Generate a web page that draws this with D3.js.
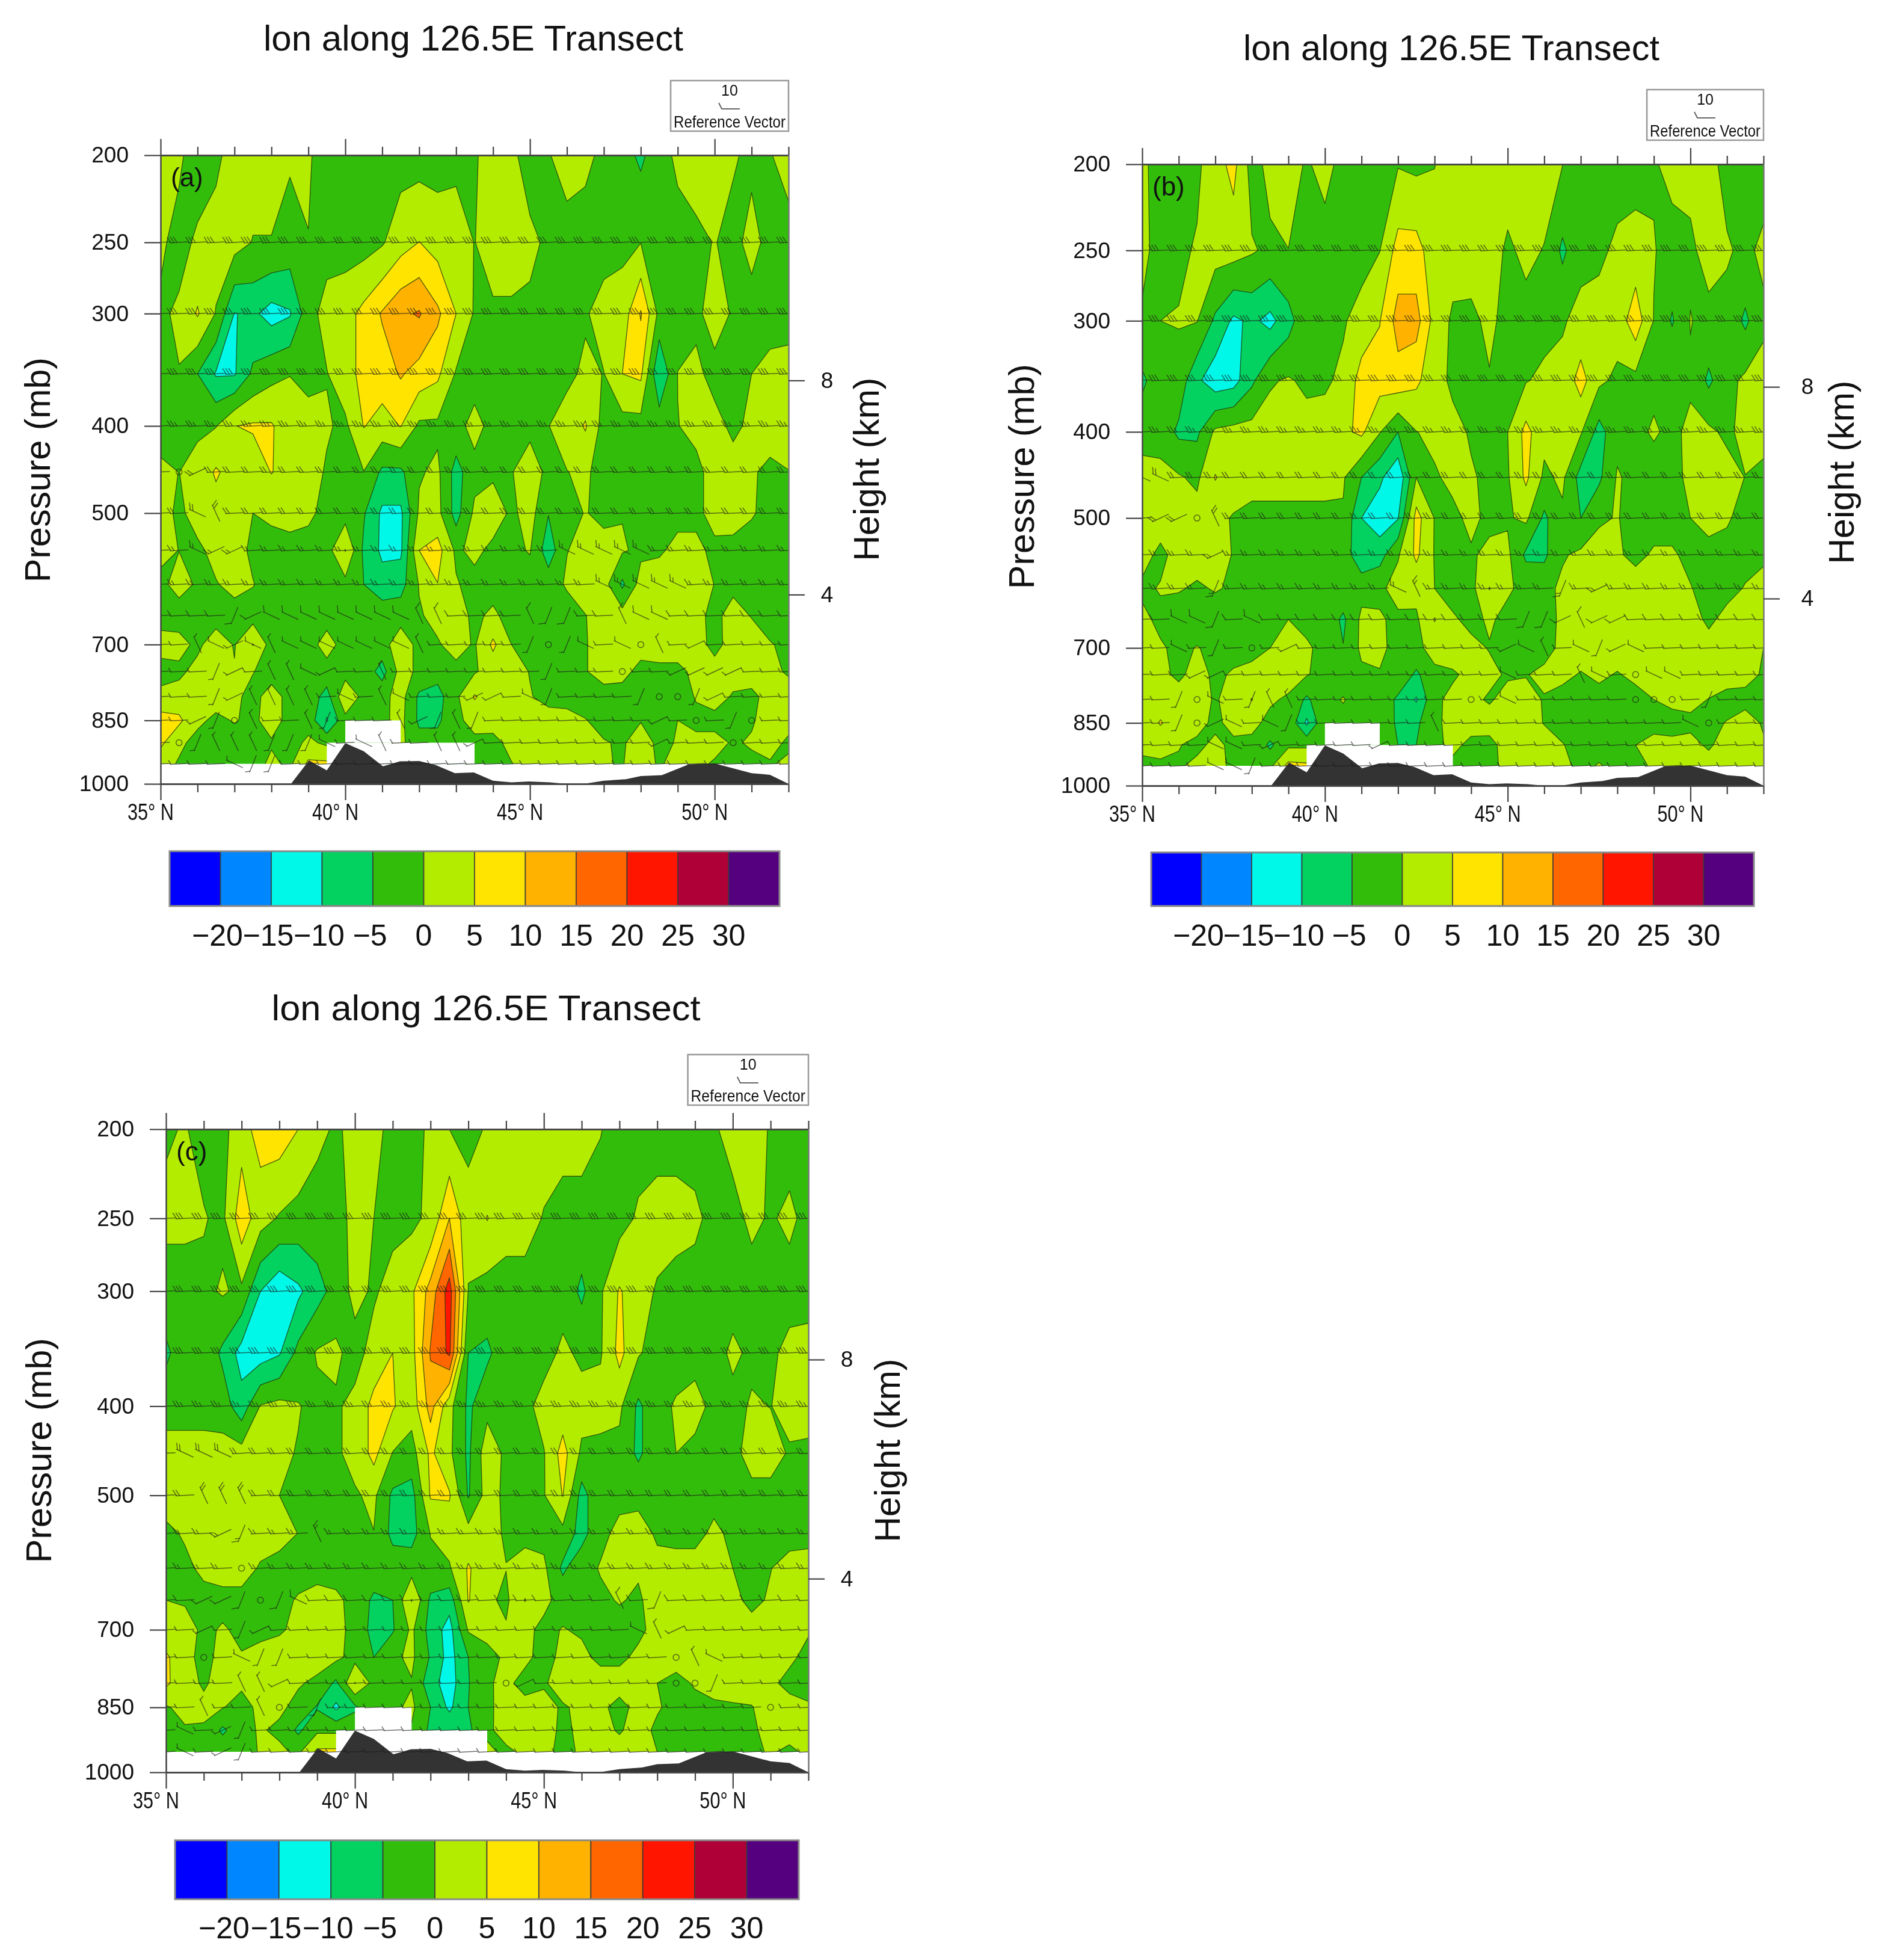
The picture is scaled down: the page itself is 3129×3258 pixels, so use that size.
<!DOCTYPE html>
<html><head><meta charset="utf-8">
<script src="https://cdn.jsdelivr.net/npm/d3@7"></script>
<style>html,body{margin:0;padding:0;background:#fff}svg{display:block;filter:blur(.6px)}text{font-family:"Liberation Sans",Arial,sans-serif;fill:#111}</style>
</head><body><svg id="c" width="3129" height="3258"></svg>
<script>
const lats = d3.range(35, 52.01, 0.5);
const levels = d3.range(200, 951, 50);
const contourLevels = [-20,-15,-10,-5,0,5,10,15,20,25,30];
const bandColors = ["#0000ff","#0087ff","#00f8e8","#03d160","#33bd0b","#b4ec00","#ffe400","#ffb300","#ff6600","#ff1500","#b00038","#55007f"];
const yTickP = [200,250,300,400,500,700,850,1000];
const kmTicks = [{km:8,p:356},{km:4,p:616}];
const terrainLat = [38.53,39.02,39.5,40,40.5,41.02,41.48,42,42.45,42.97,43.48,44,44.5,44.97,45.54,46,46.46,47,47.6,48,48.57,49.3,50,51,51.5,52];
const terrainP = [1000,941.6,966,901,920,956,944,943,953,973,971,992,996,994,996,1000,1000,992,988,980,978,951,949,973,977,1000];
const missing = [[39.5,43.5,900,950],[40,41.5,850,900]];
const feathers = [0,3,3,3,2.5,2,2,1.5,1.5,1,.5,.5,.5,.5,.5,.5];
const tilt = {"-":-3,d:25,u:-25,s:65,t:-68};

const gridA = [
[2,1,-3,-1,2, 2,2,.6,.5,-2, -2,-2,-2,-2,-2, -2,-1,-.5,2,1, -2,-.3,2,1,-1, -3,-6,-2,1,2, 2,.5,-1,-.3,2],
[1,-2,1,2,2, -.2,-.2,-2,-.1,-2, -2,-2,-.5,3,5.1, 3,2,-.1,2,2, 1,-.8,-2,-2,-2, -1,-.1,-2,-2,-1, .2,-1.4,1.5,-1.5,-2],
[-1,1,5.5,-.3,-10.2, -9,-12,-10.5,-2,2, 3,6.5,10.5,14,15.5, 11,5,-.5,-.7,-.7, -.9,-2,-2,-.5,2, 2,10.5,-1.5,-2,-1, 2,-.5,-2,-2,-2],
[-2,-.2,-5,-10.5,-10.5, -4,-1.5,-.1,-1.5,-.2, 3,6.5,7.5,10.5,8, 6,-.5,-2,-2,-2, -2,-2,-1,.8,-.1, 5,6,-10,.1,1, -1.5,-2,0,1.5,2],
[-2,-2,-1,-.2,4.9, 5.6,5.5,2,2,.5, -1,5.2,3,5.2,-1, -1,-1.5,1.5,-1.5,-1.5, -1,-.1,2,5.5,-2, -2,-2,-2,-.1,1, 1.5,-1,1,2,2],
[1,-.05,2,5.6,3, 2,5.2,3,2,-.5, -1,-.1,-6,-6,-.5, 1,-7,-1.5,-1,-.2, 2,-1,-.1,.8,-2, -2,-2,-2,-2,-1, 1.5,2,.5,-1,-.1],
[2,-1,2,3,3, 0,1,2,1,-1.5, -2,-4.5,-11,-11,.8, 1.5,-7,1,3,-1, 2,-4.8,-1.5,.2,-1, -.2,-1,-1,-1,-1, 1.5,2,.3,-1,-1.5],
[1,-.05,-1,1.5,2, -1,-2,-2,-2,-2, 5.2,-6,-11,-11,5, 7,-1,1.5,-1.5,-1, .3,-8,-.1,1,1.5, .5,-1,-.5,1,1, -1,-1.5,-1.5,-1.5,-1.5],
[-1,1.5,-.5,-.3,1.5, .2,-2,-2,-2,-2, -1.5,-5,-8,-7,.3, 4.9,.5,-2,-2,-2, -2,-2,.5,2,2, -6,2,2,2,2, -.1,-1,-2,-2,-2],
[-2,-2,-2,-2,-2, -2,-2,-2,-2,-2, -2,-2,-2,-2,-.5, 1.5,2,-1,1,-2, -2,-2,-2,-.1,1.5, 2,2,2,2,1, -1,1.5,-.2,-2,-2],
[2,1.5,-1,2.5,-.3, 5.2,-2,-2,-2,2, -2,-2,-2,3,-1.5, -.5,2,-.5,6,0, -1.5,-1.5,-1.5,-.3,2, 2,2,2,2,2, -1.5,2,2,.3,-1],
[-2,-1,1.5,2,.3, .2,-2,-2,-2,-2, -2,-2,-7,2,-1, -3,-1.5,-.5,2,2, -.2,-2,-2,-.3,2, 1.5,-1.5,-1,-1,1, 2,2,2,1,-.5],
[1.5,2,5,2,1, -1.5,2,-1.5,-2,-7, 4,-1.5,-1.5,2,-6, -7,-1,5.5,2,1.5, .3,-1.5,-2,-2,-2, -2,-1.5,-2,-2,.3, 2,-.5,-1,1.5,2],
[7,6,1,-1,.3, -1,2,-1.5,-2,-10.5, -1.5,-2,-1,1.5,-6, -6,-1,1.5,2,2, 2,2,2,.2,-1.5, -1.5,-.2,-1.5,0,-1, -1.5,-1.5,-.5,2,2],
[6,1,-1.5,-2,-2, -2,-.5,-2,1,-1, -1,-1,-1,1,-3, -3,-1,-1,-1.5,1.5, 2,2,2,2,.3, -.5,2,-1,.3,1, 1.5,-.5,.5,2,-1],
[2,-.5,-2,-2,-2, -2,1,-1,6,6, 3,-1,-1,-1,-1, -1,-1,0,-1.5,-.2, 2,2,2,2,.2, -.2,2,-.5,1.5,1, -.5,-1,-1,-.5,1]
];
const gridB = [
[1,-2,-2,-1,3, 6.5,-2,1.5,2,-.5, 1.5,-1.5,-2,-2,-.3, -1,-.1,2,2,2, 2,2,2,.1,-1.5, -2,-2,-2,-.5,1.5, 1.5,1.5,-1.5,-2,-2],
[1,-1.5,-1,.5,2, 2,.5,-1,-.05,-2, -2,-2,-2,-.1,7, 7,2,2,2,2, -.7,1,-.2,-6,-1.5, -1,1,2,.3,-2, -1,2,.5,-1,1],
[-.5,0,.3,.2,-6, -11,-9,-11.5,-7,-1, -1.5,-.5,2,4.8,12, 12,3,-.8,-1,1, -1.5,-1.5,-1.5,-.5,1.5, 2,2,8,-.2,-5.5, .2,-1.5,-1.5,-6,-1],
[-6,-2,-2,-9,-13, -12,-6,-.5,.5,-1, -.7,1,7,7,8, 6,2,-1,-1.5,-.3, -1,-.3,1,1.5,7, 1,-1,-1.5,-1,0, -.7,-6,-1.5,1,2],
[-2,-2,-6,-6,1, 2,2,2,2,2, 2,4,6,.3,-5, -.1,1,1.5,-.5,-1.5, 0,6.5,1.5,1.5,.5, -7,-1.5,-1,.5,-1, 1,1,-1,1.5,2],
[2,1.5,.5,-1,5.3, 2,2,2,2,2, 2,.5,-5,-9,-14, 0,-.5,1,.5,-1, -.5,6,-1,1,-7, -6,.5,-1.5,-2,-2, 1.5,2,2,-.1,-1.5],
[2,2,2,2,1, -.3,-1.5,-1.5,-1.5,-1.5, -1.5,-.5,-10,-13,-10.3, 7,-.2,-1,1,-1, -.5,1,-6,-1,-5, -.5,.2,-1.5,-1.5,-1.5, 0,1.5,.5,-1.5,-1.5],
[1.5,-1,1.5,1.5,1.5, -.2,-1.5,-1.5,-1.5,-1.5, -1.5,-2,-9,-7,-.5, 6,-.3,-1,-.5,1, 1,-6,-6,-.5,1, 1.5,.5,-1,.5,.5, -1,-1.5,-1.5,-1.5,-1],
[-.8,.3,.3,-.5,.3, -.5,-1.5,-1.5,-1.5,-1.5, -1.5,-1.5,-1.5,-1,2, 1.5,0,-1.5,-1.5,5.2, .5,-1,-1.5,1,2, 2,2,2,2,2, .2,-1.5,-1.5,.3,2],
[1,-1,-2,-2,-2, -2,-2,-2,0,-1, -1.5,-6,1,.5,-1, -.8,5.3,.5,-1,.5, -1,-1,-1,.5,2, 2,2,2,2,2, 2,-1,1.5,2,2],
[1.5,.5,-1,.2,-1, -1.5,-1.5,0,1.5,.5, -1,-4.8,1,1,-1.5, -1,1.5,2,1,-.2, -1.5,-1.5,-1.5,1,2, 2,2,2,2,2, 2,2,2,2,0],
[1.5,1,-.8,1.5,-.8, .5,1.5,1.5,1.5,.3, -1.5,-1.5,-1,-.3,-1, -6,-1,-.5,1,1, -.5,-.2,1,1,-.3, .8,-.3,1,2,2, 2,2,2,1.5,-.5],
[2,2,2,2,-.5, 2,5.2,.5,-.5,-6, -1,.2,-1.5,-1.5,-6, -10.5,-.8,1,1,-.5, 1.5,1.5,-.3,-1.5,-1.5, -1.5,-1.5,-1.5,0,1, 1,-.1,-1.5,-1.5,-1.5],
[1,5.5,1.5,1.5,-1, 1.5,1,-1,-1,-11, -.5,-1,-1,-1,-6, -6,-1,1.5,1.5,2, 2,2,-.2,-1.5,-1.5, -1.5,-1.5,-1.5,-1.5,-1.5, -.8,-1,.2,2,-.5],
[1,1,.2,-1,1, -1,-1,-6,-1,-1, -1,-1,-1,-1,-5, -5,-1,1,-1,-1.5, 2,2,2,.2,-1.5, -1.5,-1.5,0,1.5,1, 1,-.5,1.5,2,.5],
[-1,-.5,-.5,1,1.5, -1,-1,-1,6.5,6, 3,-1,-1,-1,-1, -1,-1,-1,-1,-1, 1,2,2,1,-1, .3,-1,-1,.5,1.5, 1.5,1.5,1.5,1.5,1]
];
const gridC = [
[-.5,.3,-1.5,-1.5,3, 7,7.5,5,1,-.5, 1,1,-1,-2,1, 0,-1,.3,2,2, 2,2,2,.2,-2, -2,-2,-2,-2,-.5, 1.5,1.5,-.3,-2,-2],
[1,1,.3,-1,8, 2,-.5,-2,-2,-2, 1.5,0,-1.5,-1,1, 10,1.5,5.2,2,2, -.3,-2,-2,-2,-2, .7,2,2,1,-1.5, -1.5,1,-.5,1,-1.5],
[-2,-2,-1,.5,-1, -10,-14,-11,-7,-3, 1.5,-.7,2,4,12, 22.5,-.2,-2,-2,-2, -2,-2,-6,-.7,5.5, 2,-.5,-2,-2,-2, -2,-2,-2,-2,-2],
[-6,-2,-1.5,-6,-12, -12.5,-10.5,-3.5,.5,1, -2,2,5,3,15.5, 21,-5,-6,-2,-2, -2,1,-1,-.5,6.5, .5,-2,-2,-2,-2, 1,-1,-1,1.5,2],
[-2,-2,-2,-2.5,-8, .3,1.5,.3,-1.5,-.7, 1.5,6.5,5.5,2,12, 1.5,-6,-1.5,-1.5,-1.5, 2,2,2,2,1, -6,-1.5,.5,2,-1.5, -1.5,.5,-.1,1.5,2],
[2,2,2,2,2, 2,1,-.3,-1.5,-.7, 1.5,6.5,-.2,-2,6, 1,-6,3,-1,-1.5, -.3,7,-1,-1.5,-1.5, -6,-1.5,0,-1.5,-1.5, -1.5,2,2,-.5,-1],
[2,2,2,2,2, 1.5,0,-2,-2,-2, -.5,1,-6,-7,5.5, 5.5,-5.5,2,-1,-1.5, -.3,5.2,-7,-1,-1, -1,-1.5,-1.5,-1.5,-1.5, -1.5,-1.5,-1.5,-1.5,-1.5],
[-1,.5,2,2,2, 2,2,-.1,-2,-2, -2,-.1,-6.5,-7,.2, 2,2,1.5,-.5,-1, -1.5,-1.5,-7,-1,1, 1.5,-.5,-1.5,-1.5,1, -1,-1.5,-1.5,-1.5,-1.5],
[-1,-1,1,2,2, -.5,-2,-2,-2,-2, -2,-2,-2,-2,-1.5, -.5,5.5,2,.1,1.5, 1,-6,-1.5,.3,2, .5,1,2,2,2, 0,-1.5,-.1,1.5,2],
[0,-.5,-1.5,-1.5,-1.5, -1.5,-1.5,.5,2,1, -1.5,-6,-5,5.2,-6, -8,5.3,1,-1,5.2, 1,-1.5,-1.5,-.8,.3, -.6,2,2,2,2, 1,-1,.5,2,2],
[1,2,-1,.5,-1, -1.5,-.5,1,1.5,1, -1,-7,-5.5,1,-7, -12,.5,1,.5,1, -1,.2,-.5,-1.5,-1.5, -1,1.5,1.5,1.5,1.5, 1.5,1.5,1.5,1.5,.5],
[6,1,-1,1,.3, 2,2,2,2,1, -1.5,-5,-1,1,-5.5, -12,-5,-1,.5,1, -1.5,1,1,-1,-1, 1,2,2,2,2, 2,2,2,1,-1.5],
[6,1.5,-.5,1.5,.7, 2,2,.5,-1,-6, 5.2,-1.5,-1.5,-.3,-8, -12.5,-5.3,-.5,1,-1.5, -.5,2,2,2,2, 2,0,-1.5,.5,2, 2,2,1,-1.5,-1.5],
[-.5,1.5,1,.2,-1.5, 1,1,-1.5,-5.5,-11, -6,-1,-1,1,-5, -11,-5,-.8,1.5,1.5, 1.5,-.5,1,1,-1.5, 1.5,.5,-1.5,-1.5,-1, -.5,-.2,2,2,.5],
[-1,-.5,-.5,-6,-1.5, .5,-1,-6,-1,-1, -1,-1,-1,-.5,-6, -6,-6,-1,2,2, 2,-1,1,1.5,-.5, 2,-1,-1.5,-1.5,-1.5, -1.5,-1,2,2,0],
[-1.5,-1.5,-1.5,-1.5,-1.5, .3,1,-1,6,6, 3,-1,-1,-1,-1, -1,-1,1,-1,1, 1,-1,.5,2,2, 2,0,-1.5,-1.5,-1.5, -1.5,-1,.5,-1,1]
];
// wind barb attitude per grid point, 450 mb downward: - flat, d/u tilted, s/t steep, o calm
const windA = ["-ou","--ds","--duu-----------------ddddd","------------------------ddddd",
"----tuddddddddss----stt--sdd","--sdudsddddddds-----totd-dos-u","---tu-ssdu--s--------t---o--uuuu",
"---tussss-d-sd---uu-dt----tootu","--utos--st---sutst---------u-o-to","-otssstttd-ds--ssu---------u---o","----dtt"];
const windB = ["dd","-uuos","----u","----t---------ds-------t-u",
"--ddt-d--------------ttusuu","--d-t-o-u-----------uds-dtud","---uu---------------d---sd-odd",
"--tod-tss---------o-d------ooo-t","--toud-dt-------s-------------do","----dd-u-----u","----ddt"];
const windC = ["-ddd","--sss","---ut---s","----o",
"--uutotd----------------s-t","--u-tu-------------------dsu","--o-dtt--------------------osd",
"----ssu-----------ou-------oot","--s--so-t-----------------------o","-d-ut","-d-ut"];

const panels = [
 {grid:gridA,wind:windA,tag:"(a)",L:267,R:1311,T:258,B:1303,tx:787,ty:84,tw:698,px:62,py:781,hx:1440,hy:780,kx:1375,
  cb:[282,1296,1415,1506,1554]},
 {grid:gridB,wind:windB,tag:"(b)",L:1899,R:2932,T:273,B:1306,tx:2413,ty:100,tw:692,px:1698,py:792,hx:3061,hy:785,kx:3005,
  cb:[1914,2916,1417,1506,1554]},
 {grid:gridC,wind:windC,tag:"(c)",L:276,R:1344,T:1877,B:2946,tx:808,ty:1696,tw:713,px:64,py:2411,hx:1475,hy:2411,kx:1408,
  cb:[291,1328,3059,3157,3204]}
];

const svg = d3.select("#c");
svg.append("rect").attr("width",3129).attr("height",3258).attr("fill","#fff");

panels.forEach((P,pi)=>{
  P.grid.forEach((r,i)=>{ if(r.length!==lats.length) throw new Error("panel "+pi+" row "+i+" has "+r.length); });
  const x = d3.scaleLinear().domain([35,52]).range([P.L,P.R]);
  const y = d3.scaleLog().domain([200,1000]).range([P.T,P.B]);
  const g = svg.append("g");
  const clipId = "clip"+pi, clipAll="clipAll"+pi;
  g.append("clipPath").attr("id",clipId).append("rect")
    .attr("x",P.L).attr("y",P.T).attr("width",P.R-P.L).attr("height",y(950)-P.T);
  g.append("clipPath").attr("id",clipAll).append("rect")
    .attr("x",P.L).attr("y",P.T).attr("width",P.R-P.L).attr("height",P.B-P.T);

  const contours = d3.contours().size([lats.length,levels.length]).thresholds(contourLevels)(P.grid.flat());
  const proj = d3.geoTransform({point(a,b){
    this.stream.point(x(35+(a-.5)*.5), y(Math.max(150,200+(b-.5)*50)));
  }});
  const path = d3.geoPath(proj);
  const fill = g.append("g").attr("clip-path",`url(#${clipId})`);
  fill.append("rect").attr("x",P.L).attr("y",P.T).attr("width",P.R-P.L).attr("height",y(950)-P.T).attr("fill",bandColors[0]);
  fill.selectAll("path").data(contours).join("path")
    .attr("d",path).attr("fill",(d,i)=>bandColors[i+1])
    .attr("stroke","#1f3a10").attr("stroke-opacity",.8).attr("stroke-width",1.3).attr("stroke-linejoin","round");

  // missing-data areas and the band below the lowest level
  g.selectAll("rect.m").data(missing).join("rect").attr("class","m")
    .attr("x",d=>x(d[0])).attr("width",d=>x(d[1])-x(d[0]))
    .attr("y",d=>y(d[2])).attr("height",d=>y(d[3])-y(d[2])).attr("fill","#fff");
  g.append("rect").attr("x",P.L).attr("width",P.R-P.L).attr("y",y(950)).attr("height",P.B-y(950)).attr("fill","#fff");

  // terrain
  const terr = d3.area().x((d,i)=>x(terrainLat[i])).y0(P.B).y1((d,i)=>y(terrainP[i]));
  g.append("path").attr("d",terr(terrainLat)).attr("fill","#333");

  // wind barbs
  const barbData=[];
  levels.forEach((lev,r)=>{
    if(r===0) return;
    const s = r>=5 ? P.wind[r-5].padEnd(lats.length,"-") : "-".repeat(lats.length);
    lats.forEach((lat,c)=>barbData.push({lat,lev,k:s[c],n:feathers[r]}));
  });
  const staff = (x(35.5)-x(35))*1.0;
  const barbs = g.append("g").attr("clip-path",`url(#${clipAll})`).attr("stroke","#1c1c1c").attr("stroke-opacity",.62).attr("stroke-width",1.5).attr("fill","none");
  barbs.selectAll("g").data(barbData).join("g")
    .attr("transform",d=>`translate(${x(d.lat)},${y(d.lev)}) rotate(${d.k==="o"?0:tilt[d.k]})`)
    .each(function(d){
      const b=d3.select(this);
      if(d.k==="o"){ b.append("circle").attr("r",5); return; }
      b.append("line").attr("x1",-staff/2).attr("x2",staff/2);
      const full=Math.floor(d.n), half=d.n-full>0;
      for(let i=0;i<full;i++){
        const fx=-staff/2+2+i*5;
        b.append("line").attr("x1",fx).attr("y1",0).attr("x2",fx-6).attr("y2",-10);
      }
      if(half){
        const fx=-staff/2+2+full*5;
        b.append("line").attr("x1",fx).attr("y1",0).attr("x2",fx-4).attr("y2",-7);
      }
    });

  // axes
  const majorLat=[35,40,45,50], minorLat=d3.range(35,53).filter(v=>!majorLat.includes(v));
  const styleAxis = a=>{ a.select(".domain").attr("stroke","#444").attr("stroke-width",2.5);
    a.selectAll(".tick line").attr("stroke","#444").attr("stroke-width",2.2); };
  const bottomMinor=d3.axisBottom(x).tickValues(minorLat).tickSize(14).tickSizeOuter(0).tickFormat("");
  const bottomMajor=d3.axisBottom(x).tickValues(majorLat).tickSize(27).tickSizeOuter(0).tickFormat(d=>d+"° N");
  const topMinor=d3.axisTop(x).tickValues(minorLat).tickSize(14).tickSizeOuter(0).tickFormat("");
  const topMajor=d3.axisTop(x).tickValues(majorLat).tickSize(27).tickSizeOuter(0).tickFormat("");
  g.append("g").attr("transform",`translate(0,${P.B})`).call(bottomMinor).call(styleAxis);
  const bm=g.append("g").attr("transform",`translate(0,${P.B})`).call(bottomMajor).call(styleAxis);
  bm.selectAll("text").attr("y",33).attr("dy",".71em").attr("dx",-17).attr("font-size",38)
    .attr("textLength",77).attr("lengthAdjust","spacingAndGlyphs");
  g.append("g").attr("transform",`translate(0,${P.T})`).call(topMinor).call(styleAxis);
  g.append("g").attr("transform",`translate(0,${P.T})`).call(topMajor).call(styleAxis);
  const left=g.append("g").attr("transform",`translate(${P.L},0)`)
    .call(d3.axisLeft(y).tickValues(yTickP).tickSize(27).tickSizeOuter(0).tickFormat(d3.format("d"))).call(styleAxis);
  left.selectAll("text").attr("font-size",37).attr("x",-53);
  const right=g.append("g").attr("transform",`translate(${P.R},0)`)
    .call(d3.axisRight(y).tickValues(kmTicks.map(d=>d.p)).tickSize(27).tickSizeOuter(0).tickFormat(p=>kmTicks.find(k=>k.p===p).km)).call(styleAxis);
  right.select(".domain").attr("stroke","#777");
  right.selectAll("text").attr("font-size",37).attr("x",P.kx-P.R).attr("text-anchor","middle");

  // titles
  g.append("text").attr("x",P.tx).attr("y",P.ty).attr("text-anchor","middle").attr("font-size",60)
    .attr("textLength",P.tw).attr("lengthAdjust","spacingAndGlyphs").text("lon along 126.5E Transect");
  g.append("text").attr("transform",`translate(${P.px},${P.py}) rotate(-90)`).attr("text-anchor","middle")
    .attr("dy",".35em").attr("font-size",60).attr("textLength",374).attr("lengthAdjust","spacingAndGlyphs").text("Pressure (mb)");
  g.append("text").attr("transform",`translate(${P.hx},${P.hy}) rotate(-90)`).attr("text-anchor","middle")
    .attr("dy",".35em").attr("font-size",60).attr("textLength",305).attr("lengthAdjust","spacingAndGlyphs").text("Height (km)");
  g.append("text").attr("x",P.L+17).attr("y",P.T+52).attr("font-size",44).text(P.tag);

  // reference vector
  const w=P.R-P.L, bw=w*0.1877, bx=P.R-bw, by=P.T-124, bh=84;
  g.append("rect").attr("x",bx).attr("y",by).attr("width",bw).attr("height",bh)
    .attr("fill","#fff").attr("stroke","#999").attr("stroke-width",2.5);
  g.append("text").attr("x",bx+bw/2).attr("y",by+25).attr("text-anchor","middle").attr("font-size",25).text("10");
  g.append("path").attr("d",`M${bx+bw/2-18},${by+37} L${bx+bw/2-13},${by+47} L${bx+bw/2+17},${by+47}`)
    .attr("fill","none").attr("stroke","#666").attr("stroke-width",2);
  g.append("text").attr("x",bx+bw/2).attr("y",by+78).attr("text-anchor","middle").attr("font-size",27)
    .attr("textLength",bw-10).attr("lengthAdjust","spacingAndGlyphs").attr("fill","#222").text("Reference Vector");

  // colour bar
  const [cl,cr,ct,cb,cy]=P.cb;
  const cx=d3.scaleLinear().domain([0,12]).range([cl,cr]);
  const bar=g.append("g");
  bar.selectAll("rect").data(bandColors).join("rect")
    .attr("x",(d,i)=>cx(i)).attr("width",(d,i)=>cx(i+1)-cx(i)).attr("y",ct).attr("height",cb-ct)
    .attr("fill",d=>d).attr("stroke","#3a3a3a").attr("stroke-opacity",.75).attr("stroke-width",2);
  bar.append("rect").attr("x",cl).attr("y",ct).attr("width",cr-cl).attr("height",cb-ct)
    .attr("fill","none").attr("stroke","#888").attr("stroke-width",3);
  bar.selectAll("text").data(contourLevels).join("text")
    .attr("x",(d,i)=>cx(i+1)-(d<0?5:0)).attr("y",cy).attr("dy",".35em").attr("text-anchor","middle").attr("font-size",50)
    .text(d=>d<0?"\u2212"+(-d):d);
});
</script></body></html>
